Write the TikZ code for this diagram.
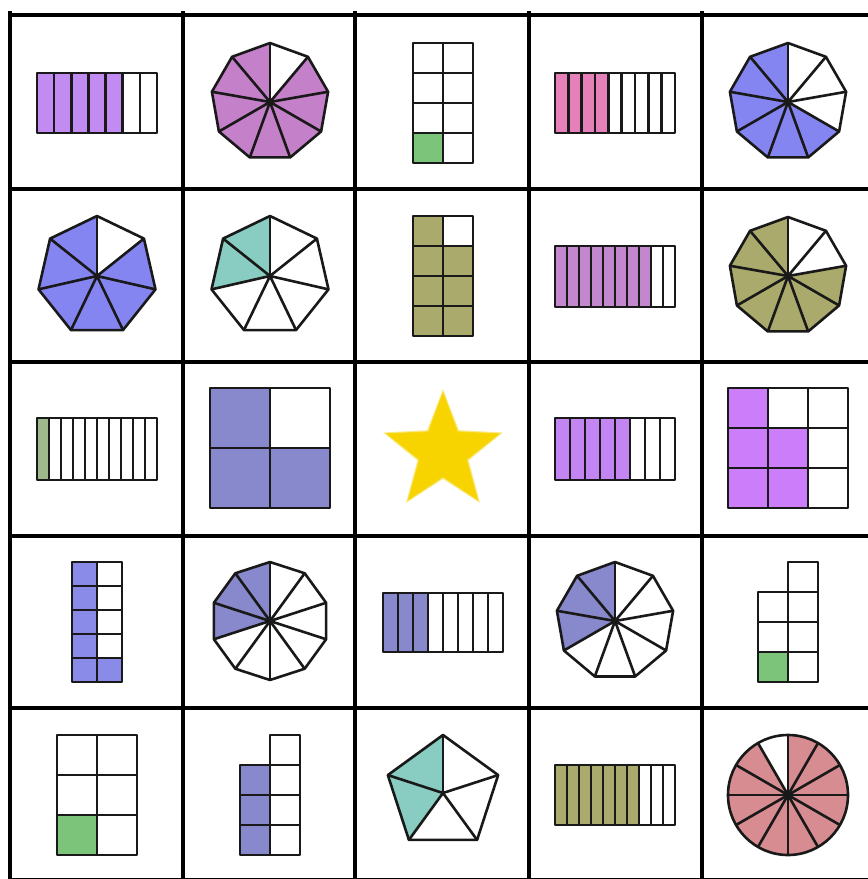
\documentclass[tikz,border=0pt]{standalone}
\definecolor{cviolet}{HTML}{C28BF2}
\definecolor{corchid}{HTML}{C480C8}
\definecolor{cgreen}{HTML}{7CC47A}
\definecolor{cpink}{HTML}{E680B8}
\definecolor{cblue}{HTML}{8585F2}
\definecolor{cteal}{HTML}{88CCC2}
\definecolor{colive}{HTML}{AAAA6C}
\definecolor{corchidb}{HTML}{C287CC}
\definecolor{csage}{HTML}{A0B98C}
\definecolor{cslate}{HTML}{8888CC}
\definecolor{cvioletb}{HTML}{C285F2}
\definecolor{cviolc}{HTML}{CC7EFA}
\definecolor{cblueb}{HTML}{8A8AE8}
\definecolor{crose}{HTML}{D68C90}
\definecolor{cstar}{HTML}{F7D400}
\definecolor{cglow}{HTML}{FBEB8A}
\tikzset{
  shapeline/.style={line width=2.6pt, line join=round, draw=black!90},
  gridline/.style={line width=4pt, draw=black},
}
% horizontal strip bar: x0 y0 x1 y1 n k colour
\newcommand\fracbar[7]{%
  \fill[#7] (#1,#2) rectangle ({#1+(#3-#1)*#6/#5},#4);
  \foreach \i in {1,...,#5} \draw[shapeline] ({#1+(#3-#1)*\i/#5},#2) -- ({#1+(#3-#1)*\i/#5},#4);
  \draw[shapeline] (#1,#2) rectangle (#3,#4);
}
% regular polygon cut into slices: cx cy r n first last colour
\newcommand\fracpoly[7]{%
  \begin{scope}[shift={(#1,#2)},x=1pt,y=1pt]
    \foreach \i in {#5,...,#6} \fill[#7] (0,0) -- ({90+\i*360/#4}:#3) -- ({90+(\i+1)*360/#4}:#3) -- cycle;
    \foreach \i in {1,...,#4} \draw[shapeline] (0,0) -- ({90+\i*360/#4}:#3);
    \draw[shapeline] (90:#3) \foreach \i in {1,...,#4} { -- ({90+\i*360/#4}:#3) } -- cycle;
  \end{scope}}
% circle cut into slices
\newcommand\fraccirc[7]{%
  \begin{scope}[shift={(#1,#2)},x=1pt,y=1pt]
    \foreach \i in {#5,...,#6} \fill[#7] (0,0) -- ({90+\i*360/#4}:#3) arc[start angle={90+\i*360/#4}, delta angle={360/#4}, radius=#3] -- cycle;
    \foreach \i in {1,...,#4} \draw[shapeline] (0,0) -- ({90+\i*360/#4}:#3);
    \draw[shapeline] (0,0) circle[radius=#3];
  \end{scope}}
% one square cell
\newcommand\fcell[5]{\filldraw[shapeline, fill=#5] (#1,#2) rectangle (#3,#4);}
\begin{document}
\begin{tikzpicture}[x=1pt,y=-1pt]
\useasboundingbox (0,0) rectangle (868,879);
\fill[white] (0,0) rectangle (868,879);

% ---------- row 1 ----------
\fracbar{37}{73}{157}{133}{7}{5}{cviolet}
\fracpoly{270}{102}{59}{9}{0}{7}{corchid}
\fcell{413}{43}{443}{73}{white}\fcell{443}{43}{473}{73}{white}
\fcell{413}{73}{443}{103}{white}\fcell{443}{73}{473}{103}{white}
\fcell{413}{103}{443}{133}{white}\fcell{443}{103}{473}{133}{white}
\fcell{413}{133}{443}{163}{cgreen}\fcell{443}{133}{473}{163}{white}
\fracbar{555}{73}{675}{133}{9}{4}{cpink}
\fracpoly{788}{102}{59}{9}{0}{5}{cblue}

% ---------- row 2 ----------
\fracpoly{97}{276}{60}{7}{0}{5}{cblue}
\fracpoly{270}{276}{60}{7}{0}{1}{cteal}
\fcell{413}{216}{443}{246}{colive}\fcell{443}{216}{473}{246}{white}
\fcell{413}{246}{443}{276}{colive}\fcell{443}{246}{473}{276}{colive}
\fcell{413}{276}{443}{306}{colive}\fcell{443}{276}{473}{306}{colive}
\fcell{413}{306}{443}{336}{colive}\fcell{443}{306}{473}{336}{colive}
\fracbar{555}{246}{675}{307}{10}{8}{corchidb}
\fracpoly{788}{276}{59}{9}{0}{6}{colive}

% ---------- row 3 ----------
\fracbar{37}{418}{157}{480}{10}{1}{csage}
\fcell{210}{388}{270}{448}{cslate}\fcell{270}{388}{330}{448}{white}
\fcell{210}{448}{270}{508}{cslate}\fcell{270}{448}{330}{508}{cslate}
\begin{scope}[shift={(443,452)},x=1pt,y=1pt]
  \fill[cglow] (90:63) \foreach \i in {1,...,9} { -- ({90+\i*36}:{mod(\i,2)==0 ? 63 : 27}) } -- cycle;
  \fill[cstar!85!cglow] (90:60.5) \foreach \i in {1,...,9} { -- ({90+\i*36}:{mod(\i,2)==0 ? 60.5 : 25.5}) } -- cycle;
  \fill[cstar] (90:58) \foreach \i in {1,...,9} { -- ({90+\i*36}:{mod(\i,2)==0 ? 58 : 24}) } -- cycle;
\end{scope}
\fracbar{555}{418}{675}{480}{8}{5}{cvioletb}
\fcell{728}{388}{768}{428}{cviolc}\fcell{768}{388}{808}{428}{white}\fcell{808}{388}{848}{428}{white}
\fcell{728}{428}{768}{468}{cviolc}\fcell{768}{428}{808}{468}{cviolc}\fcell{808}{428}{848}{468}{white}
\fcell{728}{468}{768}{508}{cviolc}\fcell{768}{468}{808}{508}{cviolc}\fcell{808}{468}{848}{508}{white}

% ---------- row 4 ----------
\foreach \r in {0,...,4} {
  \fcell{72}{562+24*\r}{97}{586+24*\r}{cblueb}
}
\foreach \r in {0,...,3} {
  \fcell{97}{562+24*\r}{122}{586+24*\r}{white}
}
\fcell{97}{658}{122}{682}{cblueb}
\fracpoly{270}{621}{59}{10}{0}{2}{cslate}
\fracbar{383}{593}{503}{652}{8}{3}{cslate}
\fracpoly{615}{621}{59}{9}{0}{2}{cslate}
\fcell{788}{562}{818}{592}{white}
\fcell{758}{592}{788}{622}{white}\fcell{788}{592}{818}{622}{white}
\fcell{758}{622}{788}{652}{white}\fcell{788}{622}{818}{652}{white}
\fcell{758}{652}{788}{682}{cgreen}\fcell{788}{652}{818}{682}{white}

% ---------- row 5 ----------
\fcell{57}{735}{97}{775}{white}\fcell{97}{735}{137}{775}{white}
\fcell{57}{775}{97}{815}{white}\fcell{97}{775}{137}{815}{white}
\fcell{57}{815}{97}{855}{cgreen}\fcell{97}{815}{137}{855}{white}
\fcell{270}{735}{300}{765}{white}
\fcell{240}{765}{270}{795}{cslate}\fcell{270}{765}{300}{795}{white}
\fcell{240}{795}{270}{825}{cslate}\fcell{270}{795}{300}{825}{white}
\fcell{240}{825}{270}{855}{cslate}\fcell{270}{825}{300}{855}{white}
\fracpoly{443}{793}{58}{5}{0}{1}{cteal}
\fracbar{555}{765}{675}{825}{10}{7}{colive}
\fraccirc{788}{795}{60}{12}{1}{11}{crose}

% ---------- grid ----------
\foreach \x in {10,183,355,529,702,875} \draw[gridline] (\x,11) -- (\x,884);
\foreach \y in {15,189,362,536,708,880} \draw[gridline] (8,\y) -- (877,\y);
\end{tikzpicture}
\end{document}
